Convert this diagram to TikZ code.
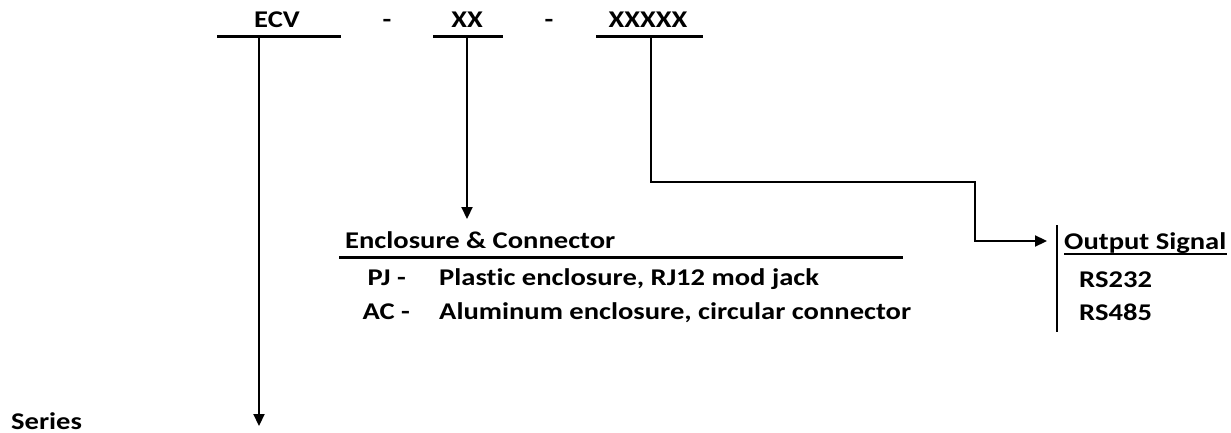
\documentclass[tikz,border=0pt]{standalone}
\usepackage{fontspec}
\setmainfont{Carlito}[Ligatures=NoCommon]
\usetikzlibrary{arrows.meta}
\newcommand{\wtxt}[1]{\scalebox{1.19}[1]{#1}}
\begin{document}
\begin{tikzpicture}[x=1pt,y=-1pt,
  lbl/.style={font=\bfseries\fontsize{24}{28}\selectfont, inner sep=0pt},
  bar/.style={line width=3pt},
  conn/.style={line width=2.2pt,-{Triangle[length=12pt,width=11pt]}}]
\useasboundingbox (0,0) rectangle (1231,433);
% top code
\node[lbl, anchor=base] (ecv) at (277,28) {\wtxt{ECV}};
\node[lbl, anchor=base] (d1) at (387,28) {\wtxt{-}};
\node[lbl, anchor=base] (xx) at (467,28) {\wtxt{XX}};
\node[lbl, anchor=base] (d2) at (549,28) {\wtxt{-}};
\node[lbl, anchor=base] (x5) at (648,28) {\wtxt{XXXXX}};
\coordinate (u1a) at (217,37); \coordinate (u1b) at (341,37);
\coordinate (u2a) at (433,37); \coordinate (u2b) at (503,37);
\coordinate (u3a) at (596,37); \coordinate (u3b) at (703,37);
\draw[bar] (u1a) -- (u1b);
\draw[bar] (u2a) -- (u2b);
\draw[bar] (u3a) -- (u3b);
% series
\node[lbl, anchor=base west] (series) at (11,429) {\wtxt{Series}};
\coordinate (s0) at (259,37); \coordinate (s1) at (259,426);
\draw[conn] (s0) -- (s1);
% enclosure
\node[lbl, anchor=base west] (enc) at (345,248) {\wtxt{Enclosure \& Connector}};
\coordinate (e0) at (467,37); \coordinate (e1) at (467,219);
\draw[conn] (e0) -- (e1);
\coordinate (ea) at (339,257); \coordinate (eb) at (903,257);
\draw[bar] (ea) -- (eb);
\node[lbl, anchor=base east] (pj) at (406,285) {\wtxt{PJ -}};
\node[lbl, anchor=base east] (ac) at (410,319) {\wtxt{AC -}};
\node[lbl, anchor=base west] (pjd) at (439,285) {\wtxt{Plastic enclosure, RJ12 mod jack}};
\node[lbl, anchor=base west] (acd) at (439,319) {\wtxt{Aluminum enclosure, circular connector}};
% output
\coordinate (o0) at (651,37); \coordinate (o1) at (651,182);
\coordinate (o2) at (975,182); \coordinate (o3) at (975,241); \coordinate (o4) at (1047,241);
\draw[conn] (o0) -- (o1) -- (o2) -- (o3) -- (o4);
\coordinate (va) at (1057,225); \coordinate (vb) at (1057,332);
\draw[line width=2.2pt] (va) -- (vb);
\node[lbl, anchor=base west] (out) at (1064,249) {\wtxt{Output Signal}};
\coordinate (ula) at (1064,254); \coordinate (ulb) at (1227,254);
\draw[line width=1.4pt] (ula) -- (ulb);
\node[lbl, anchor=base west] (rs1) at (1079,287) {\wtxt{RS232}};
\node[lbl, anchor=base west] (rs2) at (1079,320) {\wtxt{RS485}};
\end{tikzpicture}
\end{document}
